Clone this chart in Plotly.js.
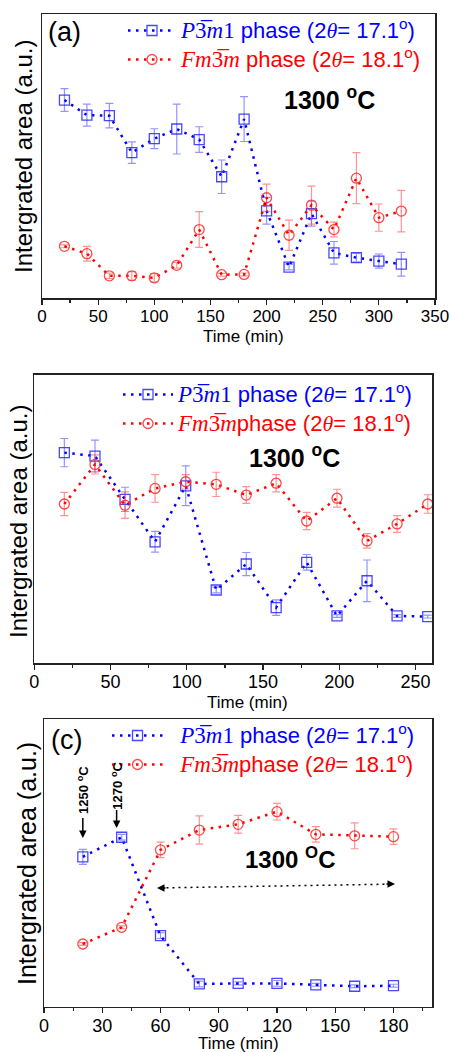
<!DOCTYPE html>
<html><head><meta charset="utf-8">
<script src="https://cdn.plot.ly/plotly-3.0.1.min.js"></script>
<style>html,body{margin:0;padding:0;background:#fff}#chart{width:452px;height:1052px}</style>
</head><body><div id="chart"></div>
<script>
// ---------- data (arbitrary intensity units, 0-100 of plot height) ----------
const timeA = [20,40,60,80,100,120,140,160,180,200,220,240,260,280,300,320];
const blueA = [69.7,64.4,64.2,51.2,56.1,59.5,55.8,42.7,63.0,30.7,10.9,29.7,15.9,14.2,13.0,11.9];
const blueAErr = [4.0,3.9,4.3,3.8,3.5,8.8,4.5,5.9,7.9,4.7,1.0,4.4,4.0,1.5,2.5,4.2];
const redA = [18.2,15.6,7.8,7.8,7.1,11.5,24.1,8.2,8.3,35.3,22.1,32.7,24.1,42.2,28.3,30.6];
const redAErr = [0.5,2.6,1.0,1.5,1.5,1.0,6.3,0.5,0.5,4.8,5.3,6.7,2.6,9.0,4.8,7.3];

const timeB = [19.7,39.8,59.5,79.2,99.3,119.3,139,158.6,178.6,198.5,218.2,237.9,258];
const blueB = [73.0,71.8,56.8,42.1,61.5,25.4,34.4,19.3,35.0,16.4,28.6,16.4,16.2];
const blueBErr = [4.9,5.5,4.2,3.6,6.9,1.0,4.0,2.7,2.7,0.5,7.2,0.5,0.5];
const redB = [55.2,68.9,54.8,60.6,62.9,62.0,58.3,62.4,49.3,57.2,42.4,48.3,55.2];
const redBErr = [4.0,3.3,4.6,4.8,2.5,4.2,2.9,3.0,3.0,3.1,2.5,2.9,3.2];

const timeC = [20,40,60,80,100,120,140,160,180];
const blueC = [52.1,58.9,24.7,7.9,8.1,8.1,7.6,7.1,7.3];
const blueCErr = [2.6,1.0,1.0,1.0,0.5,1.0,0.5,0.5,0.5];
const redC = [21.8,27.6,54.5,61.4,63.4,67.8,59.9,59.4,59.1];
const redCErr = [0.5,0.5,2.7,4.9,3.1,2.9,2.7,4.5,2.7];

// ---------- text ----------
const BLUE = '#0000ff', RED = '#ff0000';
const SERIF = 'font-family:Liberation Serif';
const NB = '\u00a0\u00a0';
const thetaTxt = '<span style="' + SERIF + '"><i>θ</i></span>';
const p3m1 = '<span style="' + SERIF + ';font-size:23px"><i>P</i>3\u0305<i>m</i>1</span>';
const fm3m = '<span style="' + SERIF + ';font-size:23px"><i>Fm</i>3\u0305<i>m</i></span>';
function wrap(s, col) { return '<span style="font-size:22px;color:' + col + '">' + s + '</span>'; }
const blueNameA = wrap(p3m1 + ' phase (2' + thetaTxt + '= 17.1<sup>o</sup>)', BLUE);
const redNameA  = wrap(fm3m + ' phase (2' + thetaTxt + '= 18.1<sup>o</sup>)', RED);
const blueNameB = wrap(p3m1 + ' phase (2' + thetaTxt + '= 17.1<sup>o</sup>)', BLUE);
const redNameB  = wrap(fm3m + 'phase (2' + thetaTxt + '= 18.1<sup>o</sup>)', RED);
const blueNameC = wrap(NB + p3m1 + ' phase (2' + thetaTxt + '= 17.1<sup>o</sup>)', BLUE);
const redNameC  = wrap(NB + fm3m + 'phase (2' + thetaTxt + '= 18.1<sup>o</sup>)', RED);
const yTitle = 'Intergrated area (a.u.)';
const xTitle = 'Time (min)';
const tempTxt = '1300 <sup>o</sup>C';
const tempTxtC = '1300 <sup>O</sup>C';

// ---------- geometry helpers (paper coords from pixels) ----------
const W = 452, H = 1052;
const px = v => v / W;
const py = v => 1 - v / H;

const BLUE_M = 'rgba(40,40,255,0.85)', RED_M = 'rgba(255,40,40,0.85)';
const BLUE_E = 'rgba(60,60,255,0.55)', RED_E = 'rgba(255,60,60,0.55)';

function series(x, y, err, color, mcol, ecol, symbol, name, xa, ya, legend) {
  return {
    type: 'scatter', mode: 'lines+markers', x: x, y: y, name: name,
    xaxis: xa, yaxis: ya, legend: legend,
    line: {color: color, width: 2.5, dash: '2.5px,5.5px'},
    marker: {symbol: symbol, size: 10, color: mcol, line: {width: 1.3}},
    error_y: {type: 'data', array: err, visible: true, color: ecol, thickness: 1.2, width: 4}
  };
}

const data = [
  series(timeA, blueA, blueAErr, BLUE, BLUE_M, BLUE_E, 'square-open', blueNameA, 'x', 'y', 'legend'),
  series(timeA, redA, redAErr, RED, RED_M, RED_E, 'circle-open', redNameA, 'x', 'y', 'legend'),
  series(timeB, blueB, blueBErr, BLUE, BLUE_M, BLUE_E, 'square-open', blueNameB, 'x2', 'y2', 'legend2'),
  series(timeB, redB, redBErr, RED, RED_M, RED_E, 'circle-open', redNameB, 'x2', 'y2', 'legend2'),
  series(timeC, blueC, blueCErr, BLUE, BLUE_M, BLUE_E, 'square-open', blueNameC, 'x3', 'y3', 'legend3'),
  series(timeC, redC, redCErr, RED, RED_M, RED_E, 'circle-open', redNameC, 'x3', 'y3', 'legend3')
];

const FONT = 'Liberation Sans, Arial, sans-serif';

function xax(domain, anchor, range, dtick, fs) {
  return {
    domain: domain, anchor: anchor, range: range, dtick: dtick, tick0: 0,
    showline: true, mirror: true, linecolor: '#222', linewidth: 1.5,
    ticks: 'outside', ticklen: 5, tickwidth: 1.2, tickcolor: '#222',
    ticklabelstandoff: -3,
    minor: {dtick: dtick / 2, ticks: 'outside', ticklen: 3, tickwidth: 1.2, tickcolor: '#222'},
    showgrid: false, zeroline: false,
    tickfont: {family: FONT, size: fs, color: '#000'}
  };
}
function topax(over, anchor, range, dtick) {
  return {
    overlaying: over, anchor: anchor, side: 'top', range: range, dtick: dtick, tick0: 0,
    showline: false, showgrid: false, zeroline: false, showticklabels: false,
    ticks: 'inside', ticklen: 4, tickwidth: 1.2, tickcolor: '#222',
    minor: {dtick: dtick / 2, ticks: 'inside', ticklen: 4, tickwidth: 1.2, tickcolor: '#222'}
  };
}
function yax(domain, anchor) {
  return {
    domain: domain, anchor: anchor, range: [0, 100],
    showline: true, mirror: true, linecolor: '#222', linewidth: 1.5,
    ticks: '', showticklabels: false, showgrid: false, zeroline: false
  };
}
function leg(x, y, iw) {
  return {
    x: x, y: y, xanchor: 'left', yanchor: 'top', bgcolor: 'rgba(0,0,0,0)',
    borderwidth: 0, itemwidth: iw, font: {family: FONT, size: 20}, itemclick: false
  };
}

const ann = [];
function txt(x, y, text, size, opts) {
  ann.push(Object.assign({xref: 'paper', yref: 'paper', x: x, y: y, text: text,
    showarrow: false, xanchor: 'center', yanchor: 'middle',
    font: {family: FONT, size: size, color: '#000'}}, opts || {}));
}
// y titles
txt(px(24), py(157), yTitle, 24, {textangle: -90});
txt(px(18), py(522), yTitle, 24, {textangle: -90});
txt(px(27), py(864), yTitle, 25, {textangle: -90});
// x titles
txt(px(243), py(336), xTitle, 17);
txt(px(247), py(702), xTitle, 17);
txt(px(238), py(1043), xTitle, 17);
// panel labels
txt(px(64), py(32), '(a)', 27);
txt(px(66), py(740), '(c)', 27);
// temperature labels
txt(px(329), py(98), '<b>' + tempTxt + '</b>', 25);
txt(px(294), py(456), '<b>' + tempTxt + '</b>', 25);
txt(px(290), py(858), '<b>' + tempTxtC + '</b>', 24);
// panel (c) heating-step labels and arrows
ann.push({xref: 'x3', yref: 'y3', x: 20, y: 75.3, text: '<b>1250 <sup>o</sup>C</b>', textangle: -90,
  showarrow: false, font: {family: FONT, size: 13, color: '#000'}});
ann.push({xref: 'x3', yref: 'y3', x: 37.4, y: 76.7, text: '<b>1270 <sup>o</sup>C</b>', textangle: -90,
  showarrow: false, font: {family: FONT, size: 13, color: '#000'}});
function arrow(xr, yr, x, y, ax, ay) {
  ann.push({xref: xr, yref: yr, x: x, y: y, ax: ax, ay: ay, text: ' ', font: {size: 1},
    showarrow: true, arrowhead: 2, arrowsize: 1, arrowwidth: 1.5, arrowcolor: '#000'});
}
arrow('x3', 'y3', 20, 58.6, 0, -22);
arrow('x3', 'y3', 37.4, 62.1, 0, -20);
arrow('x3', 'y3', 58.2, 41.26, 10, 0);
arrow('x3', 'y3', 180.8, 42.65, -10, 0);

const layout = {
  width: W, height: H, margin: {l: 0, r: 0, t: 0, b: 0},
  paper_bgcolor: '#fff', plot_bgcolor: '#fff',
  font: {family: FONT, color: '#000'},
  showlegend: true,
  xaxis: xax([px(42), px(435)], 'y', [0, 350], 50, 17),
  yaxis: yax([py(298), py(14)], 'x'),
  xaxis2: xax([px(34.3), px(432.3)], 'y2', [0, 261], 50, 18),
  yaxis2: yax([py(663.3), py(374.7)], 'x2'),
  xaxis3: xax([px(44), px(432.3)], 'y3', [0, 200], 30, 18),
  yaxis3: yax([py(1006.7), py(719)], 'x3'),
  xaxis4: topax('x', 'y', [0, 350], 50),
  xaxis5: topax('x2', 'y2', [0, 261], 50),
  xaxis6: topax('x3', 'y3', [0, 200], 30),
  legend: leg(px(123), py(11), 48),
  legend2: leg(px(118), py(375), 50),
  legend3: leg(px(107), py(716), 51),
  shapes: [{type: 'line', xref: 'x3', yref: 'y3', x0: 60, y0: 41.3, x1: 179, y1: 42.6,
    line: {color: '#000', width: 1.5, dash: '2px,4px'}}],
  annotations: ann
};

Plotly.newPlot('chart', data, layout, {displayModeBar: false, staticPlot: true});
</script>
</body></html>
